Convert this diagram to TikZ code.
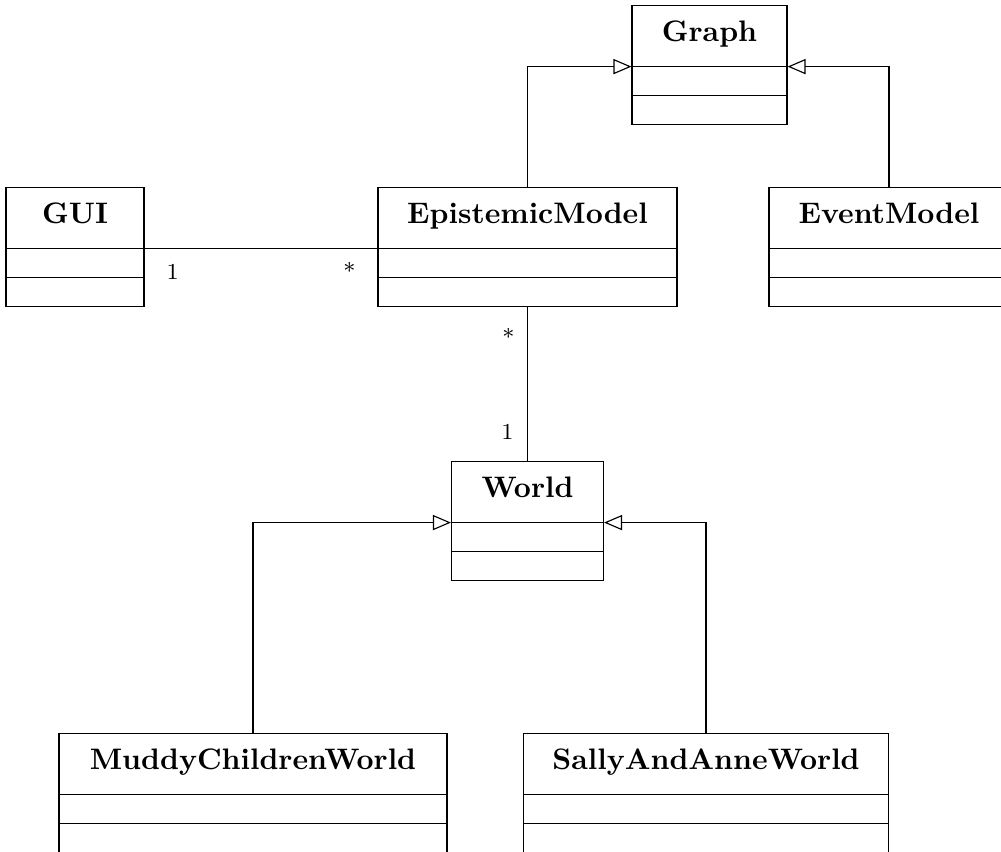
\documentclass[tikz,border=0pt]{standalone}
\usepackage{tikz}
\usetikzlibrary{positioning,calc,shapes.multipart,arrows.meta}
\newcommand{\cname}[1]{\rule[-5.9pt]{0pt}{15.6pt}\textbf{#1}}
\tikzset{
  umlclass/.style={rectangle split,rectangle split parts=3,draw,line width=0.4pt,fill=white,
    font=\fontsize{10.4pt}{12pt}\selectfont,
    inner xsep=0pt,inner ysep=2.7pt,anchor=north},
  inherit/.style={-{Triangle[open,length=6.3pt,width=5.3pt]},line width=0.4pt},
  assoc/.style={line width=0.4pt},
  mult/.style={font=\footnotesize,inner sep=0pt,anchor=base},
}

\begin{document}
\begin{tikzpicture}
  \useasboundingbox (0,0) rectangle (12.342,-10.493);
  \node[umlclass,minimum width=1.911cm] (graph) at (8.748,-0.062) {\cname{Graph}};
  \node[umlclass,minimum width=1.702cm] (gui) at (0.925,-2.306) {\cname{GUI}};
  \node[umlclass,minimum width=3.687cm] (epm) at (6.504,-2.306) {\cname{EpistemicModel}};
  \node[umlclass,minimum width=2.959cm] (evm) at (10.961,-2.306) {\cname{EventModel}};
  \node[umlclass,minimum width=1.874cm] (world) at (6.504,-5.684) {\cname{World}};
  \node[umlclass,minimum width=4.784cm] (muddy) at (3.119,-9.038) {\cname{MuddyChildrenWorld}};
  \node[umlclass,minimum width=4.500cm] (sally) at (8.705,-9.038) {\cname{SallyAndAnneWorld}};
  % generalisations
  \draw[inherit] (epm.north) |- (graph.text split west);
  \draw[inherit] (evm.north) |- (graph.text split east);
  \draw[inherit] (muddy.north) |- (world.text split west);
  \draw[inherit] (sally.north) |- (world.text split east);
  % associations
  \draw[assoc] (gui.text split east) -- (epm.text split west);
  \draw[assoc] (epm.south) -- (world.north);
  \node[mult] (guione) at ($(gui.text split east)+(0.345,-0.382)$) {1};
  \node[mult] (epmstar) at ($(epm.text split west)+(-0.345,-0.382)$) {*};
  \node[mult] (epmstartwo) at ($(epm.south)+(-0.234,-0.481)$) {*};
  \node[mult] (worldone) at ($(world.north)+(-0.247,0.271)$) {1};
\end{tikzpicture}
\end{document}
